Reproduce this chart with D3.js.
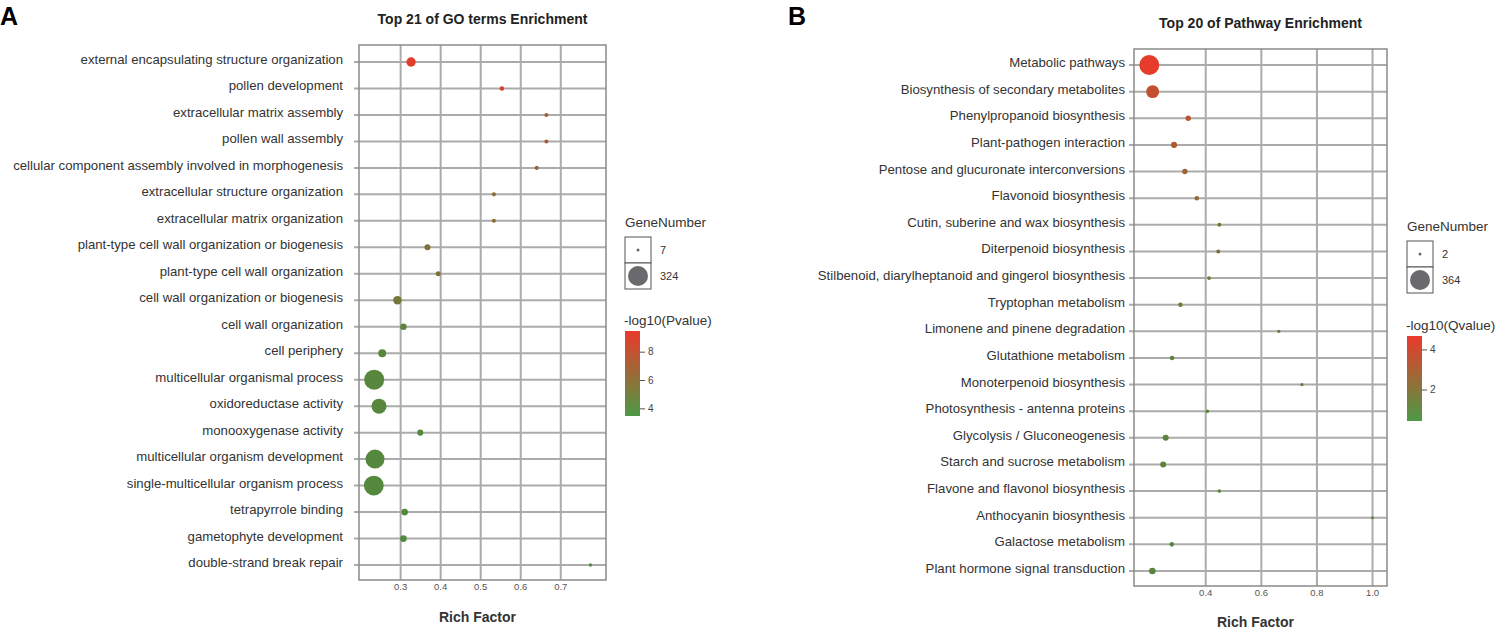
<!DOCTYPE html>
<html>
<head>
<meta charset="utf-8">
<script src="https://cdn.jsdelivr.net/npm/d3@7"></script>
<style>
  body { margin: 0; background: #fff; }
  text { font-family: "Liberation Sans", Arial, sans-serif; }
</style>
</head>
<body>
<svg id="chart"></svg>
<script>
// GO terms (panel A)
var goTerms = [
  "external encapsulating structure organization", "pollen development",
  "extracellular matrix assembly", "pollen wall assembly",
  "cellular component assembly involved in morphogenesis",
  "extracellular structure organization", "extracellular matrix organization",
  "plant-type cell wall organization or biogenesis", "plant-type cell wall organization",
  "cell wall organization or biogenesis", "cell wall organization", "cell periphery",
  "multicellular organismal process", "oxidoreductase activity", "monooxygenase activity",
  "multicellular organism development", "single-multicellular organism process",
  "tetrapyrrole binding", "gametophyte development", "double-strand break repair"
];
var goRich  = [0.326, 0.553, 0.664, 0.664, 0.640, 0.533, 0.533, 0.367, 0.394, 0.292,
               0.307, 0.254, 0.234, 0.246, 0.349, 0.236, 0.233, 0.310, 0.307, 0.774];
var goCount = [71, 17, 13, 13, 13, 13, 13, 29, 20, 57, 33, 51, 324, 182, 29, 292, 318, 36, 36, 9];
var goLogP  = [9.2, 8.6, 6.8, 6.8, 6.6, 5.9, 5.9, 5.4, 5.4, 5.1, 4.2, 4.0, 3.9, 3.9, 3.8, 3.8, 3.8, 3.7, 3.7, 3.6];
var goTicks = [0.3, 0.4, 0.5, 0.6, 0.7];
var goColorTicks = [4, 6, 8];
var goSizeLegend = [7, 324];

// KEGG pathways (panel B)
var pathTerms = [
  "Metabolic pathways", "Biosynthesis of secondary metabolites", "Phenylpropanoid biosynthesis",
  "Plant-pathogen interaction", "Pentose and glucuronate interconversions", "Flavonoid biosynthesis",
  "Cutin, suberine and wax biosynthesis", "Diterpenoid biosynthesis",
  "Stilbenoid, diarylheptanoid and gingerol biosynthesis", "Tryptophan metabolism",
  "Limonene and pinene degradation", "Glutathione metabolism", "Monoterpenoid biosynthesis",
  "Photosynthesis - antenna proteins", "Glycolysis / Gluconeogenesis", "Starch and sucrose metabolism",
  "Flavone and flavonol biosynthesis", "Anthocyanin biosynthesis", "Galactose metabolism",
  "Plant hormone signal transduction"
];
var pathRich  = [0.197, 0.209, 0.337, 0.286, 0.325, 0.368, 0.449, 0.445, 0.412, 0.309,
                 0.663, 0.279, 0.746, 0.406, 0.256, 0.247, 0.449, 1.0, 0.278, 0.208];
var pathCount = [364, 139, 15, 21, 15, 9, 6, 6, 5, 9, 3, 9, 3, 4, 21, 21, 4, 2, 9, 27];
var pathLogQ  = [4.6, 3.6, 3.3, 3.0, 2.6, 2.2, 1.7, 1.7, 1.5, 1.2, 1.1, 1.0, 1.0, 0.9, 0.9, 0.9, 0.8, 0.8, 0.8, 0.8];
var pathTicks = [0.4, 0.6, 0.8, 1.0];
var pathColorTicks = [2, 4];
var pathSizeLegend = [2, 364];

var W = 1503, H = 632;
var LOW = "#4b8d3e", HIGH = "#ea3a2b", GRID = "#ababab";

var svg = d3.select("#chart").attr("width", W).attr("height", H);
var defs = svg.append("defs");

function drawPanel(p) {
  var g = svg.append("g");

  var x = d3.scaleLinear().domain(p.xDomain).range([p.left, p.right]);
  var y = d3.scalePoint().domain(p.terms).range([p.top + p.padTop, p.bottom - p.padBottom]);
  var r = d3.scaleSqrt().domain(d3.extent(p.sizeLegend)).range([1.5, 10]);
  var col = d3.scaleLinear().domain(p.cDomain).range([LOW, HIGH]).interpolate(d3.interpolateRgb);

  var rows = p.terms.map(function(t, i) {
    return { term: t, rich: p.rich[i], count: p.count[i], logv: p.logv[i] };
  });

  // panel letter and title
  g.append("text").attr("x", p.letterX).attr("y", 25)
    .attr("font-size", 25).attr("font-weight", "bold").attr("fill", "#000").text(p.letter);
  g.append("text").attr("x", (p.left + p.right) / 2).attr("y", p.titleY)
    .attr("text-anchor", "middle").attr("font-size", 14).attr("font-weight", "bold")
    .attr("fill", "#222").text(p.title);

  // grid
  g.selectAll("line.vg").data(p.ticks).enter().append("line")
    .attr("x1", function(d) { return x(d); }).attr("x2", function(d) { return x(d); })
    .attr("y1", p.top).attr("y2", p.bottom)
    .attr("stroke", GRID).attr("stroke-width", 2);
  g.selectAll("line.hg").data(p.terms).enter().append("line")
    .attr("x1", p.left - 5).attr("x2", p.right)
    .attr("y1", function(d) { return y(d); }).attr("y2", function(d) { return y(d); })
    .attr("stroke", GRID).attr("stroke-width", 2);

  // frame
  g.append("rect").attr("x", p.left).attr("y", p.top)
    .attr("width", p.right - p.left).attr("height", p.bottom - p.top)
    .attr("fill", "none").attr("stroke", "#8a8a8a").attr("stroke-width", 1.5);

  // category labels
  g.selectAll("text.lab").data(p.terms).enter().append("text")
    .attr("x", p.left - p.labelGap).attr("y", function(d) { return y(d) + 2; })
    .attr("text-anchor", "end").attr("font-size", 13.2).attr("fill", "#333")
    .text(function(d) { return d; });

  // x tick labels
  g.selectAll("text.tk").data(p.ticks).enter().append("text")
    .attr("x", function(d) { return x(d); }).attr("y", p.bottom + 10)
    .attr("text-anchor", "middle").attr("font-size", 9.5).attr("fill", "#555")
    .text(d3.format(".1f"));

  g.append("text").attr("x", (p.left + p.right) / 2 - 5).attr("y", p.xTitleY)
    .attr("text-anchor", "middle").attr("font-size", 14).attr("font-weight", "bold")
    .attr("fill", "#333").text("Rich Factor");

  // dots
  g.selectAll("circle.dot").data(rows).enter().append("circle")
    .attr("cx", function(d) { return x(d.rich); })
    .attr("cy", function(d) { return y(d.term); })
    .attr("r", function(d) { return r(d.count); })
    .attr("fill", function(d) { return col(d.logv); });

  // GeneNumber legend
  var lx = p.legendX, ly = p.legendY;
  g.append("text").attr("x", lx).attr("y", ly - 10).attr("font-size", 13.5).attr("fill", "#333")
    .text("GeneNumber");
  var cell = 26;
  p.sizeLegend.forEach(function(v, i) {
    g.append("rect").attr("x", lx).attr("y", ly + i * cell).attr("width", cell).attr("height", cell)
      .attr("fill", "#fff").attr("stroke", "#555").attr("stroke-width", 1);
    g.append("circle").attr("cx", lx + cell / 2).attr("cy", ly + i * cell + cell / 2)
      .attr("r", r(v)).attr("fill", "#6a6a6e");
    g.append("text").attr("x", lx + cell + 9).attr("y", ly + i * cell + cell / 2 + 4)
      .attr("font-size", 11).attr("fill", "#333").text(v);
  });

  // colour legend
  var cy0 = p.cbarTop, cy1 = p.cbarTop + 85;
  g.append("text").attr("x", lx - 1).attr("y", cy0 - 6).attr("font-size", 13.5).attr("fill", "#333")
    .text(p.colorTitle);
  var gid = "grad" + p.letter;
  var grad = defs.append("linearGradient").attr("id", gid)
    .attr("x1", 0).attr("y1", 1).attr("x2", 0).attr("y2", 0);
  grad.append("stop").attr("offset", "0%").attr("stop-color", "#4c9a46");
  grad.append("stop").attr("offset", "100%").attr("stop-color", HIGH);
  g.append("rect").attr("x", lx).attr("y", cy0).attr("width", 15).attr("height", cy1 - cy0)
    .attr("fill", "url(#" + gid + ")");
  var cs = d3.scaleLinear().domain(p.cDomain).range([cy1, cy0]);
  var ax = g.append("g").attr("transform", "translate(" + (lx + 15) + ",0)")
    .call(d3.axisRight(cs).tickValues(p.colorTicks).tickFormat(d3.format("d"))
      .tickSize(5).tickPadding(3));
  ax.select(".domain").remove();
  ax.selectAll("line").attr("stroke", "#555");
  ax.selectAll("text").attr("font-size", 10).attr("fill", "#444")
    .attr("font-family", "Liberation Sans, Arial, sans-serif");
}

drawPanel({
  letter: "A", letterX: 0, title: "Top 21 of GO terms Enrichment", titleY: 24,
  terms: goTerms, rich: goRich, count: goCount, logv: goLogP,
  left: 359, right: 606, top: 45, bottom: 580, padTop: 17, padBottom: 15, labelGap: 16,
  xDomain: [0.196, 0.813], ticks: goTicks, xTitleY: 622,
  sizeLegend: goSizeLegend,
  cDomain: [3.46, 9.46], colorTicks: goColorTicks, colorTitle: "-log10(Pvalue)",
  legendX: 625, legendY: 237, cbarTop: 331
});

drawPanel({
  letter: "B", letterX: 788, title: "Top 20 of Pathway Enrichment", titleY: 28,
  terms: pathTerms, rich: pathRich, count: pathCount, logv: pathLogQ,
  left: 1134, right: 1387, top: 49, bottom: 586, padTop: 16, padBottom: 15, labelGap: 9,
  xDomain: [0.142, 1.052], ticks: pathTicks, xTitleY: 627,
  sizeLegend: pathSizeLegend,
  cDomain: [0.43, 4.67], colorTicks: pathColorTicks, colorTitle: "-log10(Qvalue)",
  legendX: 1407, legendY: 241, cbarTop: 336
});
</script>
</body>
</html>
